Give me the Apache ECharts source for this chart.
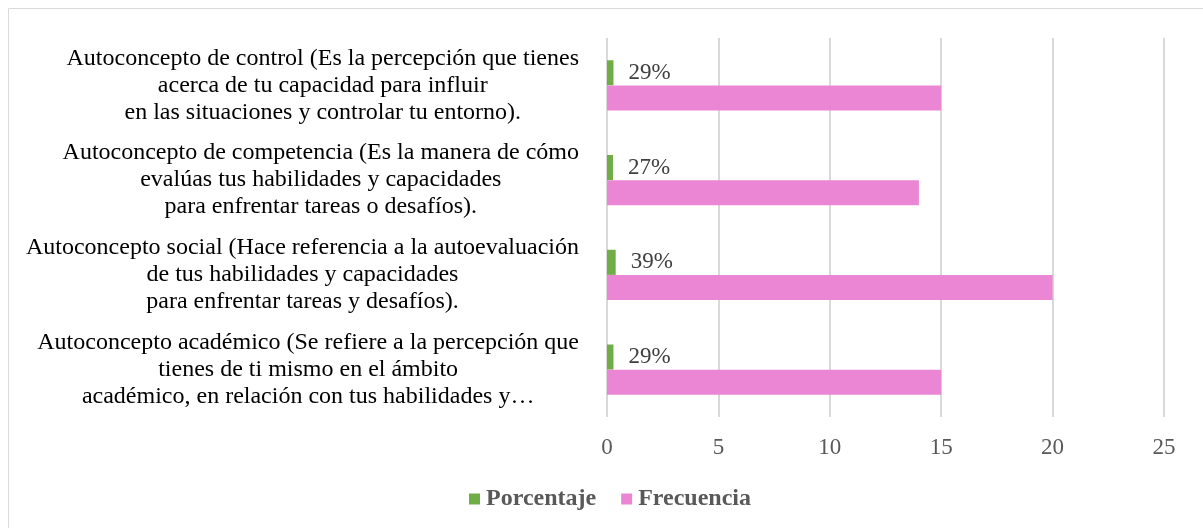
<!DOCTYPE html>
<html>
<head>
<meta charset="utf-8">
<script src="https://cdn.jsdelivr.net/npm/echarts@6/dist/echarts.min.js"></script>
<style>
  html, body { margin: 0; padding: 0; background: #fff; }
  #chart { width: 1203px; height: 528px; }
</style>
</head>
<body>
<div id="chart"></div>
<script>
// categories bottom -> top (as the axis draws them)
var categories = [
  ['Autoconcepto académico (Se refiere a la percepción que', 'tienes de ti mismo en el ámbito', 'académico, en relación con tus habilidades y…'],
  ['Autoconcepto social (Hace referencia a la autoevaluación', 'de tus habilidades y capacidades', 'para enfrentar tareas y desafíos).'],
  ['Autoconcepto de competencia (Es la manera de cómo', 'evalúas tus habilidades y capacidades', 'para enfrentar tareas o desafíos).'],
  ['Autoconcepto de control (Es la percepción que tienes', 'acerca de tu capacidad para influir', 'en las situaciones y controlar tu entorno).']
];
var porcentaje = [0.29, 0.39, 0.27, 0.29];
var frecuencia = [15, 20, 14, 15];
var xTicks = { min: 0, max: 25, interval: 5 };

var serif = '"Liberation Serif", "DejaVu Serif", serif';

var chart = echarts.init(document.getElementById('chart'));
chart.setOption({
  animation: false,
  textStyle: { fontFamily: serif },
  graphic: [{
    type: 'rect',
    shape: { x: 8.5, y: 8.5, width: 1210, height: 540 },
    style: { fill: 'none', stroke: '#d9d9d9', lineWidth: 1 },
    silent: true
  }],
  grid: { left: 607, right: 39, top: 38, bottom: 111 },
  legend: {
    top: 482,
    left: 464,
    itemWidth: 11,
    itemHeight: 11,
    itemGap: 25,
    icon: 'rect',
    textStyle: { fontFamily: serif, fontSize: 24, fontWeight: 'bold', color: '#595959', padding: [0, 0, 0, 1] },
    data: ['Porcentaje', 'Frecuencia']
  },
  xAxis: {
    type: 'value',
    min: xTicks.min,
    max: xTicks.max,
    interval: xTicks.interval,
    axisLine: { show: false },
    axisTick: { show: false },
    axisLabel: { fontFamily: serif, fontSize: 23, color: '#595959', margin: 19 },
    splitLine: { lineStyle: { color: '#d9d9d9', width: 2 } }
  },
  yAxis: {
    type: 'category',
    data: categories.map(function (c) { return c.join('\n'); }),
    axisLine: { show: false },
    axisTick: { show: false },
    axisLabel: {
      margin: 28,
      formatter: function (v) {
        return v.split('\n').map(function (l) { return '{a|' + l + '}'; }).join('\n');
      },
      rich: {
        a: { align: 'center', fontFamily: serif, fontSize: 24, color: '#000', lineHeight: 27 }
      }
    }
  },
  series: [
    {
      name: 'Porcentaje',
      type: 'bar',
      data: porcentaje,
      barGap: '0%',
      barCategoryGap: '47%',
      itemStyle: { color: '#70ad47' },
      label: {
        show: true,
        position: 'right',
        distance: 15,
        fontFamily: serif,
        fontSize: 23,
        color: '#404040',
        formatter: function (p) { return Math.round(p.value * 100) + '%'; }
      }
    },
    {
      name: 'Frecuencia',
      type: 'bar',
      data: frecuencia,
      itemStyle: { color: '#eb86d5' }
    }
  ]
});
</script>
</body>
</html>
